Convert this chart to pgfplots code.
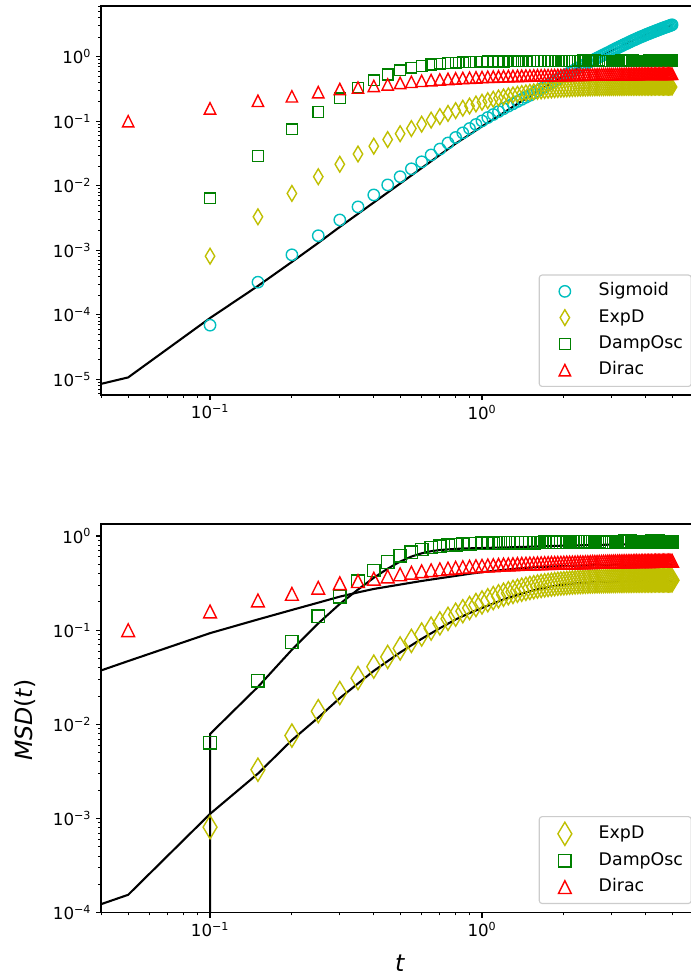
\documentclass[border=0pt]{standalone}
\usepackage{pgfplots}
\pgfplotsset{compat=1.18}
\usepackage{pgfplotstable}
\usepackage{fontspec}
\setmainfont{DejaVu Sans}
\definecolor{mc}{rgb}{0,0.75,0.75}
\definecolor{my}{rgb}{0.75,0.75,0}
\definecolor{mg}{rgb}{0,0.5,0}
\definecolor{mr}{rgb}{1,0,0}
\definecolor{lgray}{rgb}{0.8,0.8,0.8}

\pgfdeclareplotmark{mtri}{%
  \pgfpathmoveto{\pgfqpoint{0pt}{\pgfplotmarksize}}%
  \pgfpathlineto{\pgfqpoint{\pgfplotmarksize}{-\pgfplotmarksize}}%
  \pgfpathlineto{\pgfqpoint{-\pgfplotmarksize}{-\pgfplotmarksize}}%
  \pgfpathclose\pgfusepathqstroke}
\pgfdeclareplotmark{mdia}{%
  \pgfpathmoveto{\pgfqpoint{0pt}{1.4142\pgfplotmarksize}}%
  \pgfpathlineto{\pgfqpoint{0.8485\pgfplotmarksize}{0pt}}%
  \pgfpathlineto{\pgfqpoint{0pt}{-1.4142\pgfplotmarksize}}%
  \pgfpathlineto{\pgfqpoint{-0.8485\pgfplotmarksize}{0pt}}%
  \pgfpathclose\pgfusepathqstroke}

% t  sigmoid  expd  damposc  dirac
\pgfplotstableread{
t sig expd damp dirac
0.05 nan nan nan 0.100
0.10 6.9e-5 8.1e-4 0.0064 0.158
0.15 3.2e-4 3.3e-3 0.029 0.207
0.20 8.5e-4 7.6e-3 0.075 0.243
0.25 1.68e-3 0.0138 0.140 0.282
0.30 2.95e-3 0.0215 0.226 0.315
0.35 4.7e-3 0.031 0.330 0.332
0.40 7.2e-3 0.041 0.430 0.352
0.45 0.0103 0.052 0.530 0.372
0.50 0.0138 0.064 0.615 0.392
0.55 0.0183 0.077 0.675 0.408
0.60 0.0235 0.090 0.720 0.422
0.65 0.0300 0.104 0.755 0.433
0.70 0.0370 0.118 0.780 0.443
0.75 0.0460 0.132 0.795 0.452
0.80 0.0560 0.146 0.808 0.460
0.85 0.066 0.159 0.818 0.467
0.90 0.077 0.172 0.826 0.473
0.95 0.089 0.185 0.832 0.478
1.00 0.101 0.197 0.836 0.483
1.05 0.114 0.208 0.839 0.487
1.10 0.127 0.219 0.841 0.490
1.15 0.141 0.229 0.843 0.494
1.20 0.156 0.238 0.845 0.497
1.25 0.171 0.247 0.846 0.499
1.30 0.186 0.255 0.847 0.502
1.35 0.202 0.262 0.848 0.504
1.40 0.218 0.269 0.849 0.506
1.45 0.235 0.275 0.850 0.508
1.50 0.252 0.281 0.851 0.510
1.55 0.272 0.286 0.852 0.511
1.60 0.295 0.291 0.853 0.512
1.65 0.318 0.295 0.854 0.514
1.70 0.342 0.299 0.855 0.515
1.75 0.367 0.302 0.856 0.516
1.80 0.393 0.305 0.857 0.517
1.85 0.420 0.308 0.858 0.518
1.90 0.447 0.311 0.858 0.519
1.95 0.475 0.313 0.859 0.520
2.00 0.505 0.315 0.860 0.521
2.05 0.535 0.317 0.861 0.522
2.10 0.566 0.319 0.862 0.522
2.15 0.598 0.321 0.863 0.523
2.20 0.631 0.322 0.864 0.524
2.25 0.665 0.324 0.866 0.525
2.30 0.700 0.325 0.868 0.525
2.35 0.735 0.326 0.870 0.526
2.40 0.770 0.327 0.872 0.527
2.45 0.805 0.328 0.873 0.528
2.50 0.840 0.329 0.874 0.528
2.55 0.877 0.330 0.873 0.529
2.60 0.914 0.330 0.871 0.530
2.65 0.952 0.331 0.868 0.531
2.70 0.990 0.331 0.865 0.532
2.75 1.03 0.332 0.862 0.533
2.80 1.07 0.332 0.860 0.534
2.85 1.11 0.333 0.858 0.534
2.90 1.15 0.333 0.857 0.535
2.95 1.19 0.333 0.857 0.535
3.00 1.24 0.334 0.858 0.536
3.05 1.28 0.334 0.860 0.536
3.10 1.33 0.334 0.863 0.537
3.15 1.37 0.335 0.866 0.537
3.20 1.42 0.335 0.869 0.538
3.25 1.46 0.335 0.872 0.538
3.30 1.51 0.335 0.875 0.538
3.35 1.56 0.336 0.877 0.539
3.40 1.60 0.336 0.878 0.539
3.45 1.65 0.336 0.878 0.539
3.50 1.70 0.336 0.877 0.540
3.55 1.75 0.336 0.875 0.540
3.60 1.80 0.337 0.872 0.540
3.65 1.84 0.337 0.869 0.541
3.70 1.89 0.337 0.866 0.541
3.75 1.94 0.337 0.864 0.541
3.80 1.99 0.337 0.862 0.541
3.85 2.04 0.337 0.861 0.542
3.90 2.08 0.338 0.861 0.542
3.95 2.13 0.338 0.862 0.542
4.00 2.18 0.338 0.864 0.542
4.05 2.23 0.338 0.867 0.543
4.10 2.27 0.338 0.870 0.543
4.15 2.32 0.338 0.873 0.543
4.20 2.37 0.338 0.876 0.543
4.25 2.41 0.338 0.878 0.543
4.30 2.46 0.339 0.879 0.544
4.35 2.51 0.339 0.879 0.544
4.40 2.55 0.339 0.878 0.544
4.45 2.60 0.339 0.876 0.544
4.50 2.65 0.339 0.874 0.544
4.55 2.70 0.339 0.871 0.544
4.60 2.74 0.339 0.869 0.545
4.65 2.79 0.339 0.867 0.545
4.70 2.84 0.339 0.866 0.545
4.75 2.88 0.339 0.866 0.545
4.80 2.93 0.339 0.867 0.545
4.85 2.97 0.339 0.868 0.545
4.90 3.02 0.339 0.869 0.545
4.95 3.07 0.339 0.870 0.545
5.00 3.12 0.339 0.870 0.545
}\msd

% theory curve, top panel (sigmoid)
\pgfplotstableread{
t y
0.03 6.4e-6
0.05 1.07e-5
0.10 8.9e-5
0.15 2.8e-4
0.20 6.6e-4
0.25 1.3e-3
0.30 2.3e-3
0.40 5.5e-3
0.50 0.0108
0.60 0.0188
0.70 0.030
0.80 0.045
0.90 0.062
1.00 0.083
1.20 0.135
1.40 0.205
1.60 0.29
1.80 0.39
2.00 0.50
2.25 0.66
2.50 0.84
2.75 1.03
3.00 1.24
3.50 1.70
4.00 2.18
4.50 2.65
5.00 3.10
}\thsig

\pgfplotstableread{
t y
0.03 9.3e-5
0.05 1.55e-4
0.10 1.12e-3
0.15 3.0e-3
0.20 6.8e-3
0.25 0.0118
0.30 0.019
0.40 0.037
0.50 0.058
0.60 0.081
0.70 0.105
0.80 0.130
0.90 0.152
1.00 0.172
1.20 0.212
1.40 0.245
1.60 0.272
1.80 0.292
2.00 0.305
2.30 0.318
2.60 0.324
3.00 0.328
3.50 0.330
4.00 0.331
5.00 0.331
}\thexp

\pgfplotstableread{
t y
0.10 1e-7
0.10 0.0079
0.15 0.025
0.20 0.062
0.25 0.118
0.30 0.19
0.35 0.27
0.40 0.36
0.45 0.45
0.50 0.535
0.55 0.605
0.60 0.655
0.65 0.69
0.70 0.71
0.80 0.73
0.90 0.74
1.00 0.745
1.50 0.77
2.00 0.79
3.00 0.81
4.00 0.82
5.00 0.82
}\thdamp

\pgfplotstableread{
t y
0.03 0.0282
0.05 0.047
0.10 0.093
0.15 0.130
0.20 0.164
0.25 0.196
0.30 0.227
0.35 0.252
0.40 0.274
0.50 0.305
0.60 0.333
0.70 0.356
0.80 0.377
0.90 0.397
1.00 0.413
1.20 0.437
1.40 0.455
1.60 0.467
2.00 0.480
2.50 0.489
3.00 0.494
4.00 0.498
5.00 0.500
}\thdirac

\pgfplotsset{
  msdaxis/.style={
    scale only axis, width=430.56pt,
    xmin=0.03973, xmax=6.28,
    tick align=outside, tick pos=left,
    major tick length=3.5pt, minor tick length=2pt,
    tick style={black, line width=0.8pt},
    minor tick style={black, line width=0.6pt},
    axis line style={black, line width=0.8pt},
    xtick={0.1,1}, xticklabels={10\textsuperscript{−1},10\textsuperscript{0}},
    minor xtick={0.04,0.05,0.06,0.07,0.08,0.09,0.2,0.3,0.4,0.5,0.6,0.7,0.8,0.9,2,3,4,5,6},
    tick label style={font=\fontsize{12}{14}\selectfont},
    legend cell align=left,
    legend image code/.code={\path (0pt,0pt) (28pt,0pt); \draw[##1] plot coordinates {(14pt,0pt)};},
    legend style={draw=lgray, line width=0.8pt, fill=white, fill opacity=0.8, text opacity=1,
      rounded corners=2pt, font=\fontsize{12.5}{14}\selectfont,
      inner xsep=4pt, inner ysep=4pt, row sep=3.4pt, column sep=8pt,
      nodes={inner sep=2pt, text height=9pt, text depth=2.5pt}},
  }
}

\begin{document}
\begin{tikzpicture}
\useasboundingbox (0,0) rectangle (497.52pt,-704.16pt);

\begin{loglogaxis}[msdaxis, at={(72.72pt,-284.40pt)}, anchor=south west,
  height=280.08pt, ymin=5.71e-6, ymax=6.1,
  ytick={1e-5,1e-4,1e-3,1e-2,1e-1,1},
  yticklabels={10\textsuperscript{−5},10\textsuperscript{−4},10\textsuperscript{−3},10\textsuperscript{−2},10\textsuperscript{−1},10\textsuperscript{0}},
  minor ytick={6e-6,7e-6,8e-6,9e-6,2e-5,3e-5,4e-5,5e-5,6e-5,7e-5,8e-5,9e-5,2e-4,3e-4,4e-4,5e-4,6e-4,7e-4,8e-4,9e-4,2e-3,3e-3,4e-3,5e-3,6e-3,7e-3,8e-3,9e-3,0.02,0.03,0.04,0.05,0.06,0.07,0.08,0.09,0.2,0.3,0.4,0.5,0.6,0.7,0.8,0.9,2,3,4,5,6},
  legend style={at={(0.988,0.0206)}, anchor=south east}]
\addplot[only marks, mark=o, mark options={draw=mc, line width=1pt}, mark size=4.1pt] table[x=t, y=sig] {\msd};
\addlegendentry{Sigmoid}
\addplot[only marks, mark=mdia, mark options={draw=my, line width=1pt}, mark size=4pt] table[x=t, y=expd] {\msd};
\addlegendentry{ExpD}
\addplot[only marks, mark=square, mark options={draw=mg, line width=1pt}, mark size=3.9pt] table[x=t, y=damp] {\msd};
\addlegendentry{DampOsc}
\addplot[only marks, mark=mtri, mark options={draw=mr, line width=1pt}, mark size=4.1pt] table[x=t, y=dirac] {\msd};
\addlegendentry{Dirac}
\addplot[black, line width=1.5pt, no marks, forget plot] table[x=t, y=y] {\thsig};
\end{loglogaxis}

\begin{loglogaxis}[msdaxis, at={(72.72pt,-657.14pt)}, anchor=south west,
  height=279.86pt, ymin=1e-4, ymax=1.341,
  ytick={1e-4,1e-3,1e-2,1e-1,1},
  yticklabels={10\textsuperscript{−4},10\textsuperscript{−3},10\textsuperscript{−2},10\textsuperscript{−1},10\textsuperscript{0}},
  minor ytick={2e-4,3e-4,4e-4,5e-4,6e-4,7e-4,8e-4,9e-4,2e-3,3e-3,4e-3,5e-3,6e-3,7e-3,8e-3,9e-3,0.02,0.03,0.04,0.05,0.06,0.07,0.08,0.09,0.2,0.3,0.4,0.5,0.6,0.7,0.8,0.9},
  legend style={at={(0.988,0.0224)}, anchor=south east}]
\addplot[only marks, mark=mdia, mark options={draw=my, line width=1pt}, mark size=5.9pt] table[x=t, y=expd] {\msd};
\addlegendentry{ExpD}
\addplot[only marks, mark=square, mark options={draw=mg, line width=1pt}, mark size=4.5pt] table[x=t, y=damp] {\msd};
\addlegendentry{DampOsc}
\addplot[only marks, mark=mtri, mark options={draw=mr, line width=1pt}, mark size=4.6pt] table[x=t, y=dirac] {\msd};
\addlegendentry{Dirac}
\addplot[black, line width=1.5pt, no marks, forget plot] table[x=t, y=y] {\thexp};
\addplot[black, line width=1.5pt, no marks, forget plot] table[x=t, y=y] {\thdamp};
\addplot[black, line width=1.5pt, no marks, forget plot] table[x=t, y=y] {\thdirac};
\end{loglogaxis}

\node[rotate=90] at (18pt,-518.4pt) {\fontsize{17}{20}\selectfont\textit{MSD}(\textit{t})};
\node at (288pt,-693.4pt) {\fontsize{17}{20}\selectfont\textit{t}};
\end{tikzpicture}
\end{document}
